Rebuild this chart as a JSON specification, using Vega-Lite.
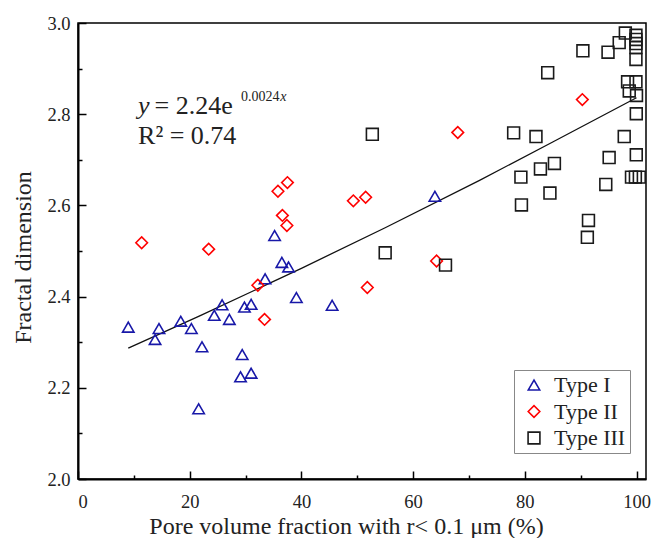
{
  "$schema": "https://vega.github.io/schema/vega-lite/v6.json",
  "width": 568,
  "height": 456,
  "autosize": "none",
  "padding": {"left": 78, "top": 23, "right": 9, "bottom": 59},
  "background": "white",
  "config": {
    "font": "Liberation Serif",
    "view": {"stroke": "#000", "strokeWidth": 1.5},
    "axis": {
      "domainColor": "#000", "domainWidth": 2, "tickColor": "#000", "tickWidth": 1.5,
      "labelFont": "Liberation Serif", "labelFontSize": 18.5, "labelColor": "#222",
      "titleFont": "Liberation Serif", "titleFontSize": 24, "titleFontWeight": "normal", "titleColor": "#222",
      "grid": false
    }
  },
  "datasets": {
    "pts": [
      {"type": "Type I", "x": 9.0, "y": 2.333},
      {"type": "Type I", "x": 14.5, "y": 2.330},
      {"type": "Type I", "x": 13.8, "y": 2.306},
      {"type": "Type I", "x": 18.4, "y": 2.346},
      {"type": "Type I", "x": 20.3, "y": 2.330},
      {"type": "Type I", "x": 22.2, "y": 2.290},
      {"type": "Type I", "x": 24.4, "y": 2.359},
      {"type": "Type I", "x": 25.8, "y": 2.382},
      {"type": "Type I", "x": 27.1, "y": 2.350},
      {"type": "Type I", "x": 29.8, "y": 2.377},
      {"type": "Type I", "x": 31.0, "y": 2.383},
      {"type": "Type I", "x": 29.4, "y": 2.273},
      {"type": "Type I", "x": 29.1, "y": 2.224},
      {"type": "Type I", "x": 31.0, "y": 2.232},
      {"type": "Type I", "x": 21.6, "y": 2.154},
      {"type": "Type I", "x": 33.5, "y": 2.439},
      {"type": "Type I", "x": 35.2, "y": 2.534},
      {"type": "Type I", "x": 36.5, "y": 2.475},
      {"type": "Type I", "x": 37.7, "y": 2.465},
      {"type": "Type I", "x": 39.1, "y": 2.398},
      {"type": "Type I", "x": 45.5, "y": 2.381},
      {"type": "Type I", "x": 63.9, "y": 2.620},
      {"type": "Type II", "x": 11.4, "y": 2.518},
      {"type": "Type II", "x": 23.4, "y": 2.504},
      {"type": "Type II", "x": 35.8, "y": 2.631},
      {"type": "Type II", "x": 37.5, "y": 2.650},
      {"type": "Type II", "x": 36.6, "y": 2.578},
      {"type": "Type II", "x": 37.4, "y": 2.556},
      {"type": "Type II", "x": 32.2, "y": 2.425},
      {"type": "Type II", "x": 33.4, "y": 2.350},
      {"type": "Type II", "x": 49.3, "y": 2.610},
      {"type": "Type II", "x": 51.5, "y": 2.618},
      {"type": "Type II", "x": 51.8, "y": 2.420},
      {"type": "Type II", "x": 64.2, "y": 2.478},
      {"type": "Type II", "x": 68.0, "y": 2.760},
      {"type": "Type II", "x": 90.3, "y": 2.832},
      {"type": "Type III", "x": 52.7, "y": 2.756},
      {"type": "Type III", "x": 55.0, "y": 2.496},
      {"type": "Type III", "x": 65.8, "y": 2.469},
      {"type": "Type III", "x": 98.0, "y": 2.978},
      {"type": "Type III", "x": 96.9, "y": 2.957},
      {"type": "Type III", "x": 99.9, "y": 2.973},
      {"type": "Type III", "x": 99.9, "y": 2.964},
      {"type": "Type III", "x": 99.9, "y": 2.955},
      {"type": "Type III", "x": 99.9, "y": 2.946},
      {"type": "Type III", "x": 99.9, "y": 2.920},
      {"type": "Type III", "x": 90.4, "y": 2.939},
      {"type": "Type III", "x": 94.9, "y": 2.936},
      {"type": "Type III", "x": 84.1, "y": 2.891},
      {"type": "Type III", "x": 98.4, "y": 2.871},
      {"type": "Type III", "x": 99.9, "y": 2.871},
      {"type": "Type III", "x": 98.7, "y": 2.851},
      {"type": "Type III", "x": 100.0, "y": 2.841},
      {"type": "Type III", "x": 99.96, "y": 2.801},
      {"type": "Type III", "x": 78.0, "y": 2.759},
      {"type": "Type III", "x": 82.0, "y": 2.751},
      {"type": "Type III", "x": 97.8, "y": 2.751},
      {"type": "Type III", "x": 95.1, "y": 2.705},
      {"type": "Type III", "x": 99.96, "y": 2.711},
      {"type": "Type III", "x": 85.3, "y": 2.692},
      {"type": "Type III", "x": 82.8, "y": 2.680},
      {"type": "Type III", "x": 79.3, "y": 2.662},
      {"type": "Type III", "x": 99.1, "y": 2.662},
      {"type": "Type III", "x": 99.8, "y": 2.662},
      {"type": "Type III", "x": 100.5, "y": 2.662},
      {"type": "Type III", "x": 94.5, "y": 2.646},
      {"type": "Type III", "x": 84.5, "y": 2.627},
      {"type": "Type III", "x": 79.4, "y": 2.601},
      {"type": "Type III", "x": 91.4, "y": 2.567},
      {"type": "Type III", "x": 91.2, "y": 2.530}
    ],
    "fit": [
      {"x": 9, "y": 2.287},
      {"x": 21.7, "y": 2.357},
      {"x": 40, "y": 2.462},
      {"x": 55, "y": 2.551},
      {"x": 71.9, "y": 2.655},
      {"x": 85, "y": 2.739},
      {"x": 100, "y": 2.836}
    ]
  },
  "resolve": {"axis": {"x": "independent", "y": "independent"}},
  "layer": [
    {
      "data": {"name": "fit"},
      "mark": {"type": "line", "color": "#111", "strokeWidth": 1.3},
      "encoding": {
        "x": {"field": "x", "type": "quantitative", "scale": {"domain": [0, 101.7], "nice": false, "zero": false},
          "axis": {"orient": "bottom", "values": [10, 30, 50, 70, 90], "labels": false, "domain": false, "tickSize": -4, "title": null}},
        "y": {"field": "y", "type": "quantitative", "scale": {"domain": [2.0, 3.0], "nice": false, "zero": false},
          "axis": {"orient": "left", "values": [2.1, 2.3, 2.5, 2.7, 2.9], "labels": false, "domain": false, "tickSize": -4, "title": null}}
      }
    },
    {
      "data": {"name": "pts"},
      "mark": {"type": "point", "filled": false, "strokeWidth": 1.6, "opacity": 1},
      "encoding": {
        "x": {"field": "x", "type": "quantitative",
          "axis": {"orient": "bottom", "values": [0, 20, 40, 60, 80, 100], "tickSize": -8, "labelPadding": 21,
            "title": "Pore volume fraction with r< 0.1 μm (%)", "titleX": 268, "titleY": 54, "titleAlign": "center", "titleBaseline": "alphabetic"}},
        "y": {"field": "y", "type": "quantitative",
          "axis": {"orient": "left", "values": [2.0, 2.2, 2.4, 2.6, 2.8, 3.0], "format": ".1f", "tickSize": -8, "labelPadding": 16,
            "title": "Fractal dimension", "titleX": -55, "titleY": 234, "titleAngle": -90, "titleAlign": "center", "titleBaseline": "middle"}},
        "shape": {"field": "type", "type": "nominal",
          "scale": {"domain": ["Type I", "Type II", "Type III"], "range": ["triangle-up", "diamond", "square"]},
          "legend": null},
        "color": {"field": "type", "type": "nominal",
          "scale": {"domain": ["Type I", "Type II", "Type III"], "range": ["#1818a8", "#ff0000", "#1a1a1a"]},
          "legend": {"orient": "none", "legendX": 436, "legendY": 347, "title": null, "strokeColor": "#888", "fillColor": "white",
            "padding": 4, "symbolOffset": 5, "labelOffset": 9, "rowPadding": 4.5, "labelFontSize": 22, "labelFont": "Liberation Serif", "labelColor": "#222",
            "symbolSize": 100, "symbolStrokeWidth": 1.6, "symbolFillColor": "transparent"}},
        "size": {"field": "type", "type": "nominal",
          "scale": {"domain": ["Type I", "Type II", "Type III"], "range": [130, 140, 72]}, "legend": null}
      }
    },
    {
      "data": {"values": [{"x": 10.75, "y": 2.801, "t": "y"}]},
      "mark": {"type": "text", "align": "left", "baseline": "alphabetic", "fontSize": 26, "fontStyle": "italic", "color": "#222"},
      "encoding": {"x": {"field": "x", "type": "quantitative", "axis": null}, "y": {"field": "y", "type": "quantitative", "axis": null}, "text": {"field": "t"}}
    },
    {
      "data": {"values": [{"x": 13.7, "y": 2.801, "t": "= 2.24e"}, {"x": 10.75, "y": 2.734, "t": "R² = 0.74"}]},
      "mark": {"type": "text", "align": "left", "baseline": "alphabetic", "fontSize": 26, "color": "#222"},
      "encoding": {"x": {"field": "x", "type": "quantitative", "axis": null}, "y": {"field": "y", "type": "quantitative", "axis": null}, "text": {"field": "t"}}
    },
    {
      "data": {"values": [{"x": 29.2, "y": 2.830, "t": "0.0024"}]},
      "mark": {"type": "text", "align": "left", "baseline": "alphabetic", "fontSize": 14, "color": "#222"},
      "encoding": {"x": {"field": "x", "type": "quantitative", "axis": null}, "y": {"field": "y", "type": "quantitative", "axis": null}, "text": {"field": "t"}}
    },
    {
      "data": {"values": [{"x": 36.2, "y": 2.830, "t": "x"}]},
      "mark": {"type": "text", "align": "left", "baseline": "alphabetic", "fontSize": 14, "fontStyle": "italic", "color": "#222"},
      "encoding": {"x": {"field": "x", "type": "quantitative", "axis": null}, "y": {"field": "y", "type": "quantitative", "axis": null}, "text": {"field": "t"}}
    }
  ]
}
